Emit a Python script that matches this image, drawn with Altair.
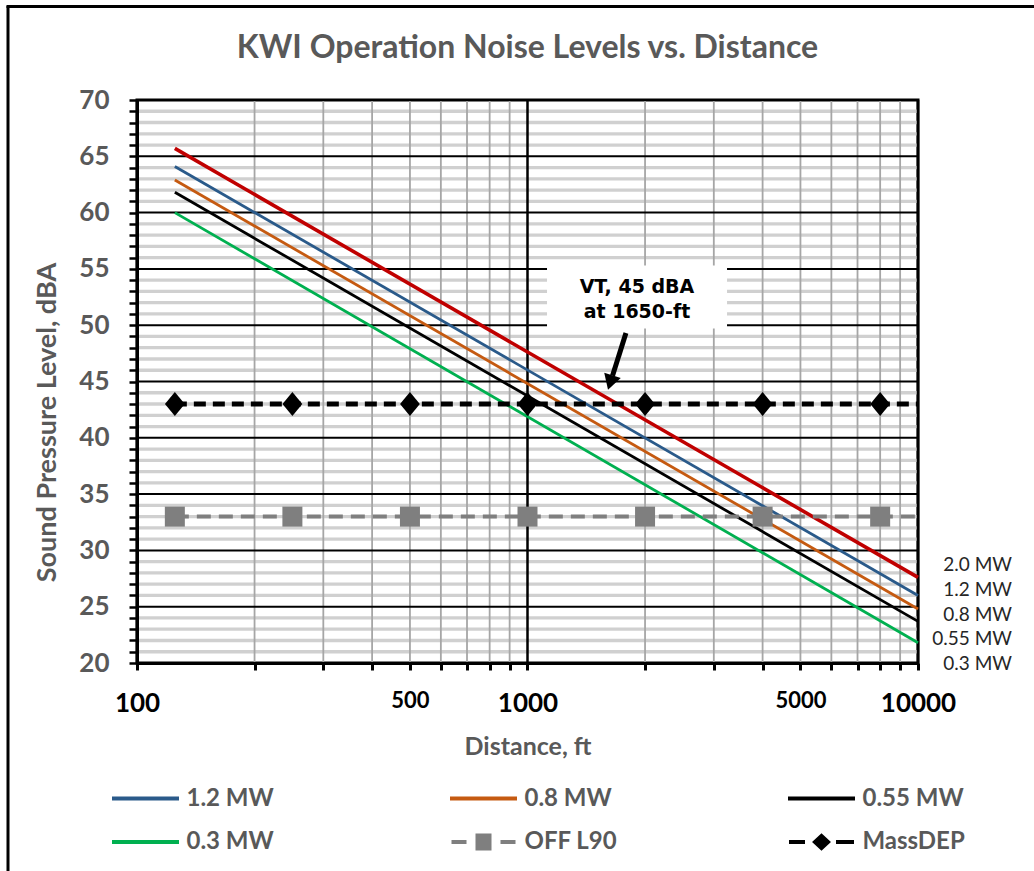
import altair as alt
import pandas as pd

# ---------------- data ----------------
title_text = "KWI Operation Noise Levels vs. Distance"
power_series = ["2.0 MW", "1.2 MW", "0.8 MW", "0.55 MW", "0.3 MW"]
power_colors = ["#c00000", "#2a5a8a", "#c55a11", "#000000", "#00b050"]
line_dist = [125, 10000]
spl_2_0 = [65.7, 27.6]
spl_1_2 = [64.1, 26.0]
spl_0_8 = [62.9, 24.8]
spl_0_55 = [61.8, 23.7]
spl_0_3 = [60.0, 21.8]

marker_dist = [125, 250, 500, 1000, 2000, 4000, 8000]
ref_line_dist = [125, 250, 500, 1000, 2000, 4000, 8000, 10000]
massdep_spl = 43
offl90_spl = 33

legend_order = ["1.2 MW", "0.8 MW", "0.55 MW", "0.3 MW", "OFF L90", "MassDEP"]

x_ticks = [100, 200, 300, 400, 500, 600, 700, 800, 900, 1000,
           2000, 3000, 4000, 5000, 6000, 7000, 8000, 9000, 10000]
x_labeled = [100, 500, 1000, 5000, 10000]
x_major_grid = [100, 1000, 10000]
y_ticks = list(range(20, 71))

side_labels = ["2.0 MW", "1.2 MW", "0.8 MW", "0.55 MW", "0.3 MW"]
side_label_spl = [28.7, 26.5, 24.3, 22.1, 19.9]

note_lines = ["VT, 45 dBA", "at 1650-ft"]
note_dist = [1907, 1907]
note_spl = [53.4, 51.2]
note_box_dist = [1122, 3243]
note_box_spl = [55.3, 49.7]
arrow_dist = [1787, 1651]
arrow_spl = [49.3, 45.5]
arrow_tip_dist = [1629]
arrow_tip_spl = [44.9]

# ---------------- tables ----------------
spl_lists = [spl_2_0, spl_1_2, spl_0_8, spl_0_55, spl_0_3]
lines_df = pd.DataFrame(
    [{"dist": d, "spl": v, "series": s}
     for s, vals in zip(power_series, spl_lists)
     for d, v in zip(line_dist, vals)]
)
massdep_line = pd.DataFrame({"dist": ref_line_dist, "spl": [massdep_spl] * len(ref_line_dist)})
offl90_line = pd.DataFrame({"dist": ref_line_dist, "spl": [offl90_spl] * len(ref_line_dist)})
massdep_pts = pd.DataFrame({"dist": marker_dist, "spl": [massdep_spl] * len(marker_dist)})
offl90_pts = pd.DataFrame({"dist": marker_dist, "spl": [offl90_spl] * len(marker_dist)})
legend_df = pd.DataFrame({"series": legend_order, "dist": [1000] * 6, "spl": [40] * 6})
side_df = pd.DataFrame({"label": side_labels, "spl": side_label_spl})
note_df = pd.DataFrame({"label": note_lines, "dist": note_dist, "spl": note_spl})
box_df = pd.DataFrame({"dist": [note_box_dist[0]], "dist2": [note_box_dist[1]],
                       "spl": [note_box_spl[0]], "spl2": [note_box_spl[1]]})
arrow_df = pd.DataFrame({"dist": arrow_dist, "spl": arrow_spl})
tip_df = pd.DataFrame({"dist": arrow_tip_dist, "spl": arrow_tip_spl})
one_row = pd.DataFrame({"a": [0]})
title_df = pd.DataFrame({"label": [title_text]})

y_minor_df = pd.DataFrame({"spl": [v for v in y_ticks if v % 5 != 0]})
y_major_df = pd.DataFrame({"spl": [v for v in y_ticks if v % 5 == 0]})
x_minor_df = pd.DataFrame({"dist": [v for v in x_ticks if v not in x_major_grid]})
x_major_df = pd.DataFrame({"dist": x_major_grid})

# ---------------- styles ----------------
W, H = 781, 563
FONT = "Lato"
GRAY_TXT = "#595959"

xscale = alt.Scale(type="log", domain=[100, 10000], nice=False)
yscale = alt.Scale(domain=[20, 70], nice=False, zero=False)

xaxis = alt.Axis(
    values=x_ticks,
    title="Distance, ft",
    labelExpr="indexof(%s, datum.value) >= 0 ? format(datum.value, 'd') : ''" % str(x_labeled),
    grid=False, zindex=1,
    tickSize=7, tickWidth=3, tickColor="black",
    domainColor="black", domainWidth=3,
    labelFont=FONT, labelFontWeight="bold", labelColor="black",
    labelFontSize={"condition": {"test": "datum.value == 500 || datum.value == 5000", "value": 22}, "value": 26},
    labelPadding=20, labelFlush=False, labelOverlap=False,
    titleFont=FONT, titleFontSize=25, titleFontWeight="bold", titleColor=GRAY_TXT,
    titleX=W / 2, titleY=83, titleBaseline="middle", titleAlign="center",
)
yaxis = alt.Axis(
    values=y_ticks,
    title="Sound Pressure Level, dBA",
    labelExpr="datum.value % 5 == 0 ? datum.label : ''",
    grid=False, zindex=1,
    tickSize=8, tickWidth=2.5, tickColor="black",
    domainColor="black", domainWidth=3,
    labelFont=FONT, labelFontWeight="bold", labelColor=GRAY_TXT, labelFontSize=26,
    labelPadding=20, labelFlush=False, labelOverlap=False,
    titleFont=FONT, titleFontSize=27, titleFontWeight="bold", titleColor=GRAY_TXT,
    titleX=-90, titleY=322, titleAngle=-90, titleBaseline="middle", titleAlign="center",
)


def X(field):
    return alt.X(field, type="quantitative", scale=xscale, axis=xaxis)


def Y(field):
    return alt.Y(field, type="quantitative", scale=yscale, axis=yaxis)


all_series = power_series + ["OFF L90", "MassDEP"]
all_colors = power_colors + ["#7f7f7f", "#000000"]
color_scale = alt.Scale(domain=all_series, range=all_colors)
legend_colors = [all_colors[all_series.index(s)] for s in legend_order]

# legend glyphs (units of 10 px)
solid_path = "M-3.35,0L3.35,0"
off_path = ("M-3.2,0L-1.7,0M-0.6,-0.65L0.6,-0.65L0.6,0.65L-0.6,0.65Z"
            "M-0.2,-0.25L0.2,-0.25L0.2,0.25L-0.2,0.25ZM1.7,0L3.2,0")
mass_path = ("M-3.25,0L-1.65,0M0,-0.6L0.65,0L0,0.6L-0.65,0Z"
             "M0,-0.2L0.22,0L0,0.2L-0.22,0ZM1.45,0L3.25,0")
legend_paths = [solid_path, solid_path, solid_path, solid_path, off_path, mass_path]

legend = alt.Legend(
    title=None, orient="none", legendX=-3.5, legendY=685, direction="horizontal",
    columns=3, gridAlign="all", columnPadding=152, rowPadding=15,
    symbolSize=400, symbolStrokeWidth=4, symbolOpacity=1,
    labelFont=FONT, labelFontSize=24, labelFontWeight="bold", labelColor=GRAY_TXT,
    labelOffset=29, values=legend_order, padding=0,
)

# gridlines
grid_y_minor = alt.Chart(y_minor_df).mark_rule(color="#d0d0d0", strokeWidth=3.3).encode(y=Y("spl"))
grid_x_minor = alt.Chart(x_minor_df).mark_rule(color="#a6a6a6", strokeWidth=1.8).encode(x=X("dist"))
grid_y_major = alt.Chart(y_major_df).mark_rule(color="black", strokeWidth=2).encode(y=Y("spl"))
grid_x_major = alt.Chart(x_major_df).mark_rule(color="black", strokeWidth=2.5).encode(x=X("dist"))

power_lines = alt.Chart(lines_df).mark_line().encode(
    x=X("dist"), y=Y("spl"),
    color=alt.Color("series:N", scale=color_scale, legend=None),
    strokeWidth=alt.condition("datum.series == '2.0 MW'", alt.value(3.6), alt.value(2.8)),
    detail="series:N",
)

massdep_l = alt.Chart(massdep_line).mark_line(
    color="black", strokeWidth=5, strokeDash=[12, 7]
).encode(x=X("dist"), y=Y("spl"))
offl90_l = alt.Chart(offl90_line).mark_line(
    color="#7f7f7f", strokeWidth=4, strokeDash=[14, 8]
).encode(x=X("dist"), y=Y("spl"))

massdep_m = alt.Chart(massdep_pts).mark_point(
    shape="M0,-1.1L0.9,0L0,1.1L-0.9,0Z", size=484, filled=True, color="black", opacity=1
).encode(x=X("dist"), y=Y("spl"))
offl90_m = alt.Chart(offl90_pts).mark_point(
    shape="square", size=400, filled=True, color="#7f7f7f", opacity=1
).encode(x=X("dist"), y=Y("spl"))

legend_layer = alt.Chart(legend_df).transform_filter("false").mark_point(
    filled=False, strokeWidth=4, opacity=1
).encode(
    x=X("dist"), y=Y("spl"),
    stroke=alt.Stroke("series:N", scale=alt.Scale(domain=legend_order, range=legend_colors), legend=legend),
    shape=alt.Shape("series:N", scale=alt.Scale(domain=legend_order, range=legend_paths), legend=legend),
)

side_text = alt.Chart(side_df).mark_text(
    align="right", baseline="middle", font=FONT, fontSize=19, color="#262626"
).encode(x=alt.value(875), y=Y("spl"), text="label:N")

box = alt.Chart(box_df).mark_rect(color="white", opacity=1).encode(
    x=X("dist"), x2="dist2", y=Y("spl"), y2="spl2"
)
note = alt.Chart(note_df).mark_text(
    align="center", baseline="middle", font="DejaVu Sans", fontWeight="bold",
    fontSize=19, color="black"
).encode(x=X("dist"), y=Y("spl"), text="label:N")
arrow = alt.Chart(arrow_df).mark_line(color="black", strokeWidth=5).encode(
    x=X("dist"), y=Y("spl")
)
tip = alt.Chart(tip_df).mark_point(
    shape="triangle-up", angle=197.5, size=300, filled=True, color="black", opacity=1
).encode(x=X("dist"), y=Y("spl"))

title_mark = alt.Chart(title_df).mark_text(
    align="center", baseline="alphabetic", font=FONT, fontSize=32,
    fontWeight="bold", color=GRAY_TXT
).encode(x=alt.value(W / 2), y=alt.value(-42), text="label:N")

border_left = alt.Chart(one_row).mark_rule(color="black", strokeWidth=3).encode(
    x=alt.value(-129), y=alt.value(-94), y2=alt.value(775)
)
border_top = alt.Chart(one_row).mark_rule(color="black", strokeWidth=3).encode(
    y=alt.value(-93.5), x=alt.value(-130.5), x2=alt.value(900)
)

chart = alt.layer(
    grid_y_minor, grid_x_minor, grid_y_major, grid_x_major,
    box, power_lines, offl90_l, massdep_l, offl90_m, massdep_m,
    legend_layer, side_text, note, arrow, tip, title_mark, border_left, border_top,
).properties(
    width=W, height=H,
    padding={"left": 137, "top": 100, "right": 116, "bottom": 208},
    autosize=alt.AutoSizeParams(type="none"),
    background="white",
).configure_view(stroke="black", strokeWidth=3)

chart.save("out.html", embed_options={"renderer": "svg", "actions": False})
